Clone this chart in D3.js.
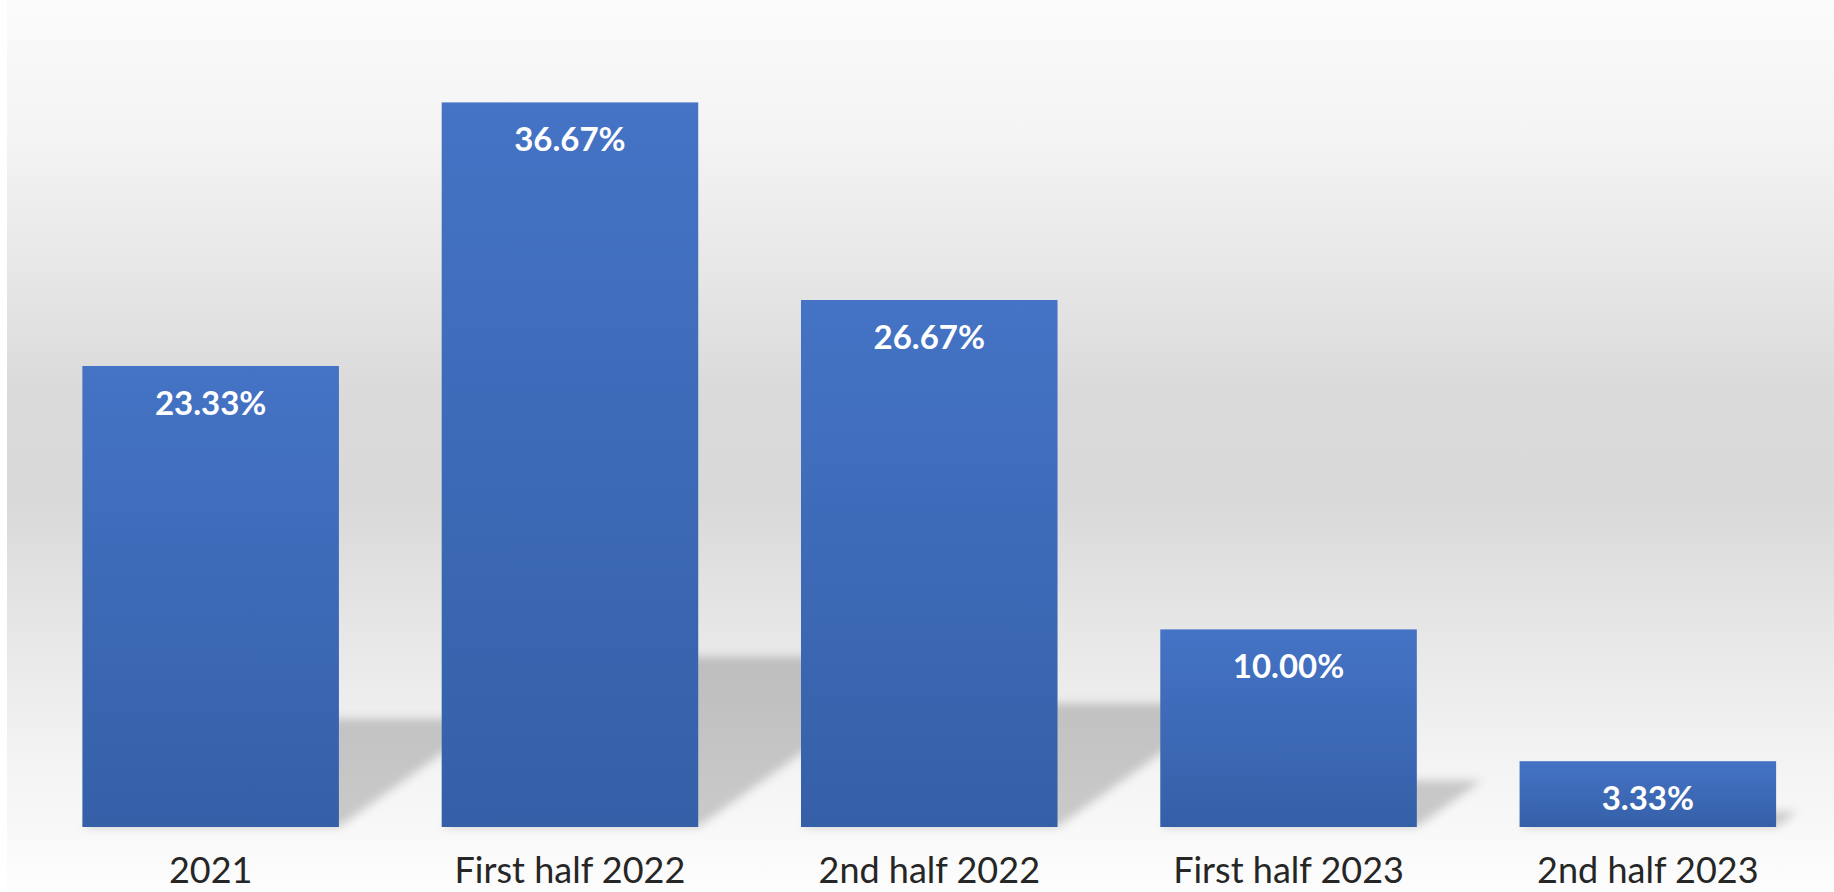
<!DOCTYPE html>
<html>
<head>
<meta charset="utf-8">
<script src="https://cdn.jsdelivr.net/npm/d3@7"></script>
<style>
  html, body { margin: 0; padding: 0; background: #ffffff; }
  svg { display: block; }
</style>
</head>
<body>
<svg id="chart" width="1834" height="892"></svg>
<script>
// Share of items per period
const categories = ["2021", "First half 2022", "2nd half 2022", "First half 2023", "2nd half 2023"];
const values = [23.33, 36.67, 26.67, 10.00, 3.33];
const valueLabels = ["23.33%", "36.67%", "26.67%", "10.00%", "3.33%"];

const W = 1834, H = 892;
const baseY = 827;

const svg = d3.select("#chart");
const defs = svg.append("defs");

// Soft grey panel behind the plot, darkest through the middle
const bg = defs.append("linearGradient")
  .attr("id", "bgGrad").attr("x1", 0).attr("y1", 0).attr("x2", 0).attr("y2", 1);
[[0, "#fbfbfb"], [0.15, "#f4f4f4"], [0.3, "#e7e7e7"], [0.44, "#dadada"], [0.56, "#d9d9d9"],
 [0.7, "#e6e6e6"], [0.85, "#f3f3f3"], [1, "#fdfdfd"]]
  .forEach(([o, c]) => bg.append("stop").attr("offset", o).attr("stop-color", c));

// Bar fill: lighter blue at the top, deeper at the base
const barGrad = defs.append("linearGradient")
  .attr("id", "barGrad").attr("x1", 0).attr("y1", 0).attr("x2", 0).attr("y2", 1);
barGrad.append("stop").attr("offset", 0).attr("stop-color", "#4573c5");
barGrad.append("stop").attr("offset", 1).attr("stop-color", "#3560a8");

const blur = defs.append("filter").attr("id", "shadowBlur")
  .attr("x", "-30%").attr("y", "-30%").attr("width", "160%").attr("height", "160%");
blur.append("feGaussianBlur").attr("stdDeviation", 5);

svg.append("rect").attr("x", 7).attr("y", 0).attr("width", W - 7).attr("height", H)
  .attr("fill", "url(#bgGrad)");

const x = d3.scaleBand()
  .domain(categories)
  .range([31, 1827.5])
  .paddingInner(0.286)
  .paddingOuter(0.143);

const y = d3.scaleLinear()
  .domain([0, 40])
  .range([baseY, baseY - 19.76 * 40]);

const data = categories.map((c, i) => ({ cat: c, value: values[i], label: valueLabels[i] }));

// Perspective shadows cast up and to the right of each bar
const shadowLayer = svg.append("g").attr("filter", "url(#shadowBlur)");
shadowLayer.selectAll("path")
  .data(data)
  .join("path")
  .attr("d", d => {
    const x0 = x(d.cat), x1 = x0 + x.bandwidth();
    const h = (y(0) - y(d.value)) * 0.235;
    const dx = h * 1.4;
    return `M${x0},${y(0)} L${x1},${y(0)} L${x1 + dx},${y(0) - h} L${x0 + dx},${y(0) - h} Z`;
  })
  .attr("fill", "#000")
  .attr("fill-opacity", 0.19);

// Bars
svg.append("g").selectAll("rect")
  .data(data)
  .join("rect")
  .attr("x", d => x(d.cat))
  .attr("y", d => y(d.value))
  .attr("width", x.bandwidth())
  .attr("height", d => y(0) - y(d.value))
  .attr("fill", "url(#barGrad)");

// Value labels inside the top of each bar
svg.append("g").selectAll("text")
  .data(data)
  .join("text")
  .attr("x", d => x(d.cat) + x.bandwidth() / 2)
  .attr("y", d => y(d.value) + 49)
  .attr("text-anchor", "middle")
  .attr("font-family", "Lato, 'Open Sans', sans-serif")
  .attr("font-weight", "bold")
  .attr("font-size", 33)
  .attr("fill", "#ffffff")
  .text(d => d.label);

// Category axis (labels only)
const xAxis = svg.append("g")
  .attr("transform", `translate(0,${baseY})`)
  .call(d3.axisBottom(x).tickSize(0).tickPadding(0));
xAxis.select(".domain").remove();
xAxis.selectAll("text")
  .attr("y", 56)
  .attr("dy", 0)
  .attr("font-family", "Lato, 'Open Sans', sans-serif")
  .attr("font-size", 36)
  .attr("fill", "#262626");
</script>
</body>
</html>
